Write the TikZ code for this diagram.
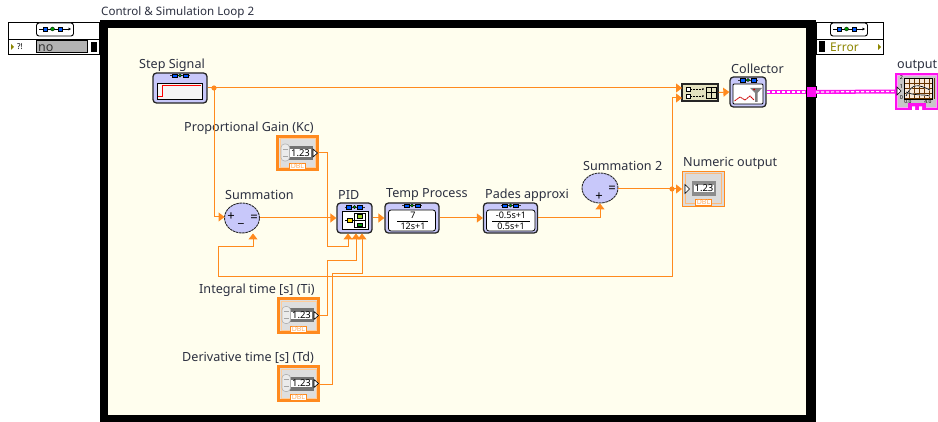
\documentclass[tikz,border=0pt]{standalone}
\usepackage{fontspec}
\setmainfont{Noto Sans}
\usetikzlibrary{arrows.meta,calc,shapes.geometric}
\definecolor{wireor}{HTML}{FF8A1E}
\definecolor{ctlor}{HTML}{FF8A1E}
\definecolor{peri}{HTML}{C8C8FA}
\definecolor{cream}{HTML}{FFFEEE}
\definecolor{txt}{HTML}{2C3040}
\definecolor{pinkw}{HTML}{FF10F0}
\tikzset{
 x=1pt,y=-1pt,
 lbl/.style={font=\fontsize{12.6}{14}\selectfont,text=txt,inner sep=0pt,anchor=west,yshift=-1pt},
 wirea/.style={draw=wireor,line width=1pt,-{Triangle[length=6pt,width=9pt,fill=wireor]}},
 vibox/.style={draw=black!85,line width=1.3pt,fill=peri,rounded corners=3.5pt,inner sep=0pt},
 ctlbox/.style={draw=ctlor,line width=2.6pt,fill=black!13,minimum width=40.5pt,minimum height=33.5pt,inner sep=0pt},
 sumnode/.style={draw=black!85,dash pattern=on 2.5pt off .7pt,line width=.9pt,fill=peri,ellipse,inner sep=0pt},
 sumsym/.style={inner sep=0pt,font=\fontsize{13}{13}\selectfont,text=black},
 pink/.style={draw=pinkw,line width=4pt},
 pinkd/.style={draw=white,line width=1.2pt,dash pattern=on 3pt off 2pt},
 dbl/.style={font=\fontsize{7}{7}\selectfont\bfseries,text=ctlor!70,fill=white,draw=ctlor,line width=.7pt,inner xsep=1.5pt,inner ysep=0pt,minimum height=6pt},
 num/.style={font=\fontsize{9.5}{10}\selectfont,text=black,fill=white,inner xsep=1pt,inner ysep=.2pt},
 tffont/.style={font=\fontsize{9}{9}\selectfont,inner sep=0pt},
}
\newcommand{\vitop}[2]{% small connector bar at top of a VI icon, centred at (#1,#2)
 \draw[black!80,line width=.7pt] (#1-10,#2) -- (#1+10,#2);
 \fill[blue!65!cyan,draw=black,line width=.3pt] (#1-8,#2-1.8) rectangle (#1-3,#2+1.8);
 \fill[blue!65!cyan,draw=black,line width=.3pt] (#1+3,#2-1.8) rectangle (#1+8,#2+1.8);
 \fill[green!60!black,draw=black,line width=.3pt] (#1,#2) circle (1.7);
}
\newcommand{\numctl}[3]{%
 \node[ctlbox] (#1) at (#2,#3) {};
 \begin{scope}[shift={(#2,#3)}]
  \draw[white!60!orange,line width=.8pt] (-17.5,-14.5) rectangle (17.5,14.5);
  \fill[black!55] (-10,-7) rectangle (15.5,7);
  \draw[black!30,fill=black!8,line width=.6pt,rounded corners=3.5pt] (-16.5,-9) rectangle (-8,8);
  \draw[black!35,line width=.5pt] (-15,-4) -- (-9.5,-4) (-15,3) -- (-9.5,3);
  \node[num] at (3,0) {1.23};
  \fill[white,draw=black,line width=.6pt] (15.5,-4) -- (20,0) -- (15.5,4) -- cycle;
  \node[dbl] at (0,13.5) {DBL};
 \end{scope}}
\begin{document}
\begin{tikzpicture}
\useasboundingbox (0,0) rectangle (938,422);
\fill[white] (0,0) rectangle (938,422);
% loop frame
\fill[black] (100,20) rectangle (816,422);
\node[inner sep=0pt,minimum width=698pt,minimum height=387pt,fill=cream] (loop) at (457,221.5) {};
\node[lbl] (looplabel) at (101,11.5) {\fontsize{11.6}{13}\selectfont Control \& Simulation Loop 2};
% left panel
\draw[black,line width=.9pt,fill=white] (8,22) rectangle (99,54);
\draw[black,line width=.9pt] (8,39) -- (99,39);
\node[draw=black,line width=.9pt,fill=white,rounded corners=2.5pt,minimum width=37pt,minimum height=13pt,inner sep=0pt] (licon) at (55,29.5) {};
\draw[black,line width=.6pt,-{Latex[length=2.5pt,width=3.5pt]}] (39,29) -- (71,29);
\fill[blue!65!cyan,draw=black,line width=.3pt] (43,27) rectangle (47,31);
\fill[blue!65!cyan,draw=black,line width=.3pt] (58,27) rectangle (62,31);
\fill[green!60!black,draw=black,line width=.3pt] (52.5,29) circle (2);
\fill[olive] (11,44) -- (14,47) -- (11,50) -- cycle;
\node[font=\fontsize{8}{8}\selectfont\bfseries,inner sep=0pt] (lq) at (20,47) {?!};
\node[draw=black,line width=.8pt,fill=black!30,minimum width=51pt,minimum height=12pt,inner sep=0pt] (no) at (61.5,46.5) {};
\node[lbl,text=black!80,font=\fontsize{12.5}{12}\selectfont] (notext) at (38,47.5) {no};
\fill[black] (91,42) rectangle (97,52);
% right panel
\draw[black,line width=.9pt,fill=white] (816,22) rectangle (883,54);
\draw[black,line width=.9pt] (816,39) -- (883,39);
\node[draw=black,line width=.9pt,fill=white,rounded corners=2.5pt,minimum width=37pt,minimum height=13pt,inner sep=0pt] (ricon) at (849,29.5) {};
\draw[black,line width=.6pt,-{Latex[length=2.5pt,width=3.5pt]}] (833,29) -- (865,29);
\fill[blue!65!cyan,draw=black,line width=.3pt] (837,27) rectangle (841,31);
\fill[blue!65!cyan,draw=black,line width=.3pt] (852,27) rectangle (856,31);
\fill[green!60!black,draw=black,line width=.3pt] (846.5,29) circle (2);
\fill[black] (819,41) rectangle (825,52);
\node[lbl,text=olive,font=\fontsize{12}{12}\selectfont] (err) at (830,46) {Error};
\fill[olive] (878,44) -- (881,47) -- (878,50) -- cycle;
% VI nodes
\node[vibox,minimum width=54pt,minimum height=30pt] (step) at (180,88) {};
\fill[white!96!black,draw=black,line width=.8pt] (157,83) rectangle (202,99);
\draw[red,line width=.9pt] (158,96.5) -- (162,96.5) -- (162,85) -- (201,85);
\vitop{180}{75.5}
\node[lbl] (steplab) at (139,64) {Step Signal};

\node[vibox,minimum width=35pt,minimum height=30pt] (pid) at (354.5,218) {};
\fill[white,draw=black,line width=.8pt] (342,211) rectangle (368,229);
\draw[black,line width=.7pt] (345,220) -- (365,220);
\fill[yellow!80!orange,draw=black,line width=.3pt] (347,218) rectangle (352,222);
\fill[green!60!black,draw=black,line width=.3pt] (357,223) rectangle (362,226.5);
\fill[yellow!60!green,draw=black,line width=.3pt] (357,214.5) rectangle (362,218);
\draw[black,line width=.8pt] (354,213.5) rectangle (365,227.5);
\vitop{354.5}{207}
\node[lbl] (pidlab) at (338,194) {PID};

\node[vibox,minimum width=54pt,minimum height=30pt] (temp) at (412,218) {};
\fill[white,draw=black,line width=.8pt,rounded corners=2.5pt] (388.5,210) rectangle (435.5,231);
\draw[black,line width=.7pt] (397,221) -- (428,221);
\node[tffont] (tnum) at (413,215.5) {7};
\node[tffont] (tden) at (413,226.5) {12s+1};
\vitop{412}{205.5}
\node[lbl] (templab) at (386,194) {Temp Process};

\node[vibox,minimum width=54pt,minimum height=30pt] (pade) at (510.5,218) {};
\fill[white,draw=black,line width=.8pt,rounded corners=2.5pt] (486.5,210) rectangle (535,231);
\draw[black,line width=.7pt] (492,221) -- (530,221);
\node[tffont] (pnum) at (511,215.5) {-0.5s+1};
\node[tffont] (pden) at (511,226.5) {0.5s+1};
\vitop{510.5}{205.5}
\node[lbl] (padelab) at (485,194) {Pades approxi};

\node[sumnode,minimum width=35pt,minimum height=30pt] (sum1) at (242,218) {};
\node[sumsym] (p1) at (231,217) {+};
\node[sumsym] (m1) at (241,224) {\_};
\node[sumsym] (e1) at (254,218) {=};
\node[lbl] (sumlab) at (225,194) {Summation};

\node[sumnode,minimum width=36pt,minimum height=30pt] (sum2) at (600,188) {};
\node[sumsym] (p2) at (599,197) {+};
\node[sumsym] (e2) at (612,189) {=};
\node[lbl] (sum2lab) at (583,165) {Summation 2};

% controls
\numctl{kc}{297.5}{153}
\numctl{ti}{298.5}{315.5}
\numctl{td}{298.5}{383.5}
\node[lbl] (kclab) at (184,127) {Proportional Gain (Kc)};
\node[lbl] (tilab) at (199,289) {Integral time [s] (Ti)};
\node[lbl] (tdlab) at (182,357) {Derivative time [s] (Td)};

% numeric indicator
\node[draw=ctlor,line width=1pt,fill=black!14,minimum width=42pt,minimum height=35pt,inner sep=0pt] (numout) at (703.5,189) {};
\draw[ctlor!60,line width=1pt] (685.5,174) rectangle (721.5,204);
\fill[black!45] (692,181) rectangle (716,196);
\node[num] (numval) at (704,188.5) {1.23};
\fill[white,draw=black,line width=.6pt] (685,184.5) -- (689.5,189) -- (685,193.5) -- cycle;
\node[dbl] (numdbl) at (703.5,202) {DBL};
\node[lbl] (numlab) at (683,162) {Numeric output};

% merge
\node[draw=black!85,line width=1.1pt,fill=yellow!12!cream!88!black,minimum width=36pt,minimum height=17pt,inner sep=0pt] (merge) at (700,92.5) {};
\draw[black,line width=.6pt,fill=white] (686,87) rectangle (690.5,91);
\draw[black,line width=.6pt,fill=white] (686,94) rectangle (690.5,98);
\draw[black,line width=.5pt,densely dotted,-{Latex[length=1.5pt,width=2.5pt]}] (691,89) -- (704,89);
\draw[black,line width=.5pt,densely dotted,-{Latex[length=1.5pt,width=2.5pt]}] (691,96) -- (704,96);
\draw[black,line width=.7pt] (706,87) rectangle (716,98) (711,87) -- (711,98) (706,92.5) -- (716,92.5);

% collector
\node[vibox,minimum width=36pt,minimum height=30pt] (coll) at (748,92) {};
\fill[white,draw=black,line width=.8pt,rounded corners=1pt] (733,84) rectangle (763,104);
\draw[red!80!black,line width=.8pt,dash pattern=on 2pt off .5pt] (734.5,101) -- (740,97) -- (745,100) -- (750,96) -- (754,100);
\fill[black!50] (750,88) -- (762,88) -- (757.5,93) -- (757.5,102) -- (755,102) -- (755,93) -- cycle;
\fill[red!80!black] (754,89.5) circle (1);
\vitop{748}{80}
\node[lbl] (colllab) at (731,68) {Collector};

% output graph
\node[draw=pinkw,line width=1.5pt,fill=black!22,minimum width=41pt,minimum height=35pt,inner sep=0pt] (outg) at (916.5,91.5) {};
\draw[pinkw!40,line width=.6pt] (897,75.5) rectangle (936,107);
\fill[black!15!orange!15!white] (904,78) rectangle (932,99);
\foreach \gx in {904,909,...,934} \draw[black!60!orange,line width=.5pt] (\gx,78) -- (\gx,99);
\foreach \gy in {78,83,...,98} \draw[black!60!orange,line width=.5pt] (904,\gy) -- (932,\gy);
\draw[black,line width=.7pt] (904,78) rectangle (932,99);
\draw[white,line width=1.3pt] (906,96) .. controls (912,83) and (918,84) .. (930,90);
\draw[black,line width=.7pt] (906,96) .. controls (912,83) and (918,84) .. (930,90);
\draw[white,line width=1.3pt] (906,92) .. controls (914,96) and (922,94) .. (930,96);
\draw[black,line width=.7pt] (906,92) .. controls (914,96) and (922,94) .. (930,96);
\node[font=\fontsize{5.5}{5.5}\selectfont\bfseries,inner sep=0pt] (oa) at (901.5,78) {2};
\node[font=\fontsize{5.5}{5.5}\selectfont\bfseries,inner sep=0pt] (ob) at (901.5,87) {1};
\node[font=\fontsize{5.5}{5.5}\selectfont\bfseries,inner sep=0pt] (oc) at (901.5,98) {0};
\node[font=\fontsize{5}{5}\selectfont\bfseries,inner sep=0pt] (od) at (908,102) {0.0};
\node[font=\fontsize{5}{5}\selectfont\bfseries,inner sep=0pt] (oe) at (928,102) {4.0};
\fill[white,draw=black,line width=.6pt] (897,87) -- (901,91) -- (897,95) -- cycle;
\fill[pinkw] (908,103.5) rectangle (926,110);
\fill[white] (912,106.5) rectangle (915,110) (919,106.5) rectangle (922,110);
\node[lbl] (outlab) at (897,65) {output};

% tunnel
\node[fill=pinkw,draw=black,line width=.3pt,minimum width=10pt,minimum height=11pt,inner sep=0pt] (tun) at (811,92) {};

% wires
\coordinate (j1) at (214,88);
\coordinate (j2) at (672,189);
\coordinate (m1a) at (682,88);
\coordinate (m2a) at (682,98);
\coordinate (sumin) at (224.5,217);
\draw[wirea] (step.east) -- (m1a);
\draw[wirea] (j1) -- (214,217) -- (sumin);
\draw[wirea] (sum1.east) -- (pid.west);
\draw[wirea] (pid.east) -- (temp.west);
\draw[wirea] (temp.east) -- (pade.west);
\draw[wirea] (pade.east) -- (600,218) -- (sum2.south);
\draw[wirea] (sum2.east |- j2) -- (numout.west |- j2);
\draw[wirea] (j2) -- (672,98) -- (m2a);
\draw[wirea] (j2) -- (672,277) -- (218,277) -- (218,247) -- (253,247) -- (253,233.5);
\draw[wirea] (merge.east) -- (coll.west);
\draw[wirea] (kc.east |- 0,153) -- (327,153) -- (327,247) -- (348,247) -- (348,233.5);
\draw[wirea] (ti.east |- 0,316) -- (327,316) -- (327,261) -- (356,261) -- (356,233.5);
\draw[wirea] (td.east |- 0,384) -- (332,384) -- (332,274) -- (362,274) -- (362,233.5);
\fill[wireor] (j1) circle (2.6);
\fill[wireor] (j2) circle (2.6);
\draw[pink] (coll.east) -- (tun.west);
\draw[pinkd] (coll.east) -- (tun.west);
\draw[pink] (tun.east) -- (outg.west);
\draw[pinkd] (tun.east) -- (outg.west);
\end{tikzpicture}
\end{document}
